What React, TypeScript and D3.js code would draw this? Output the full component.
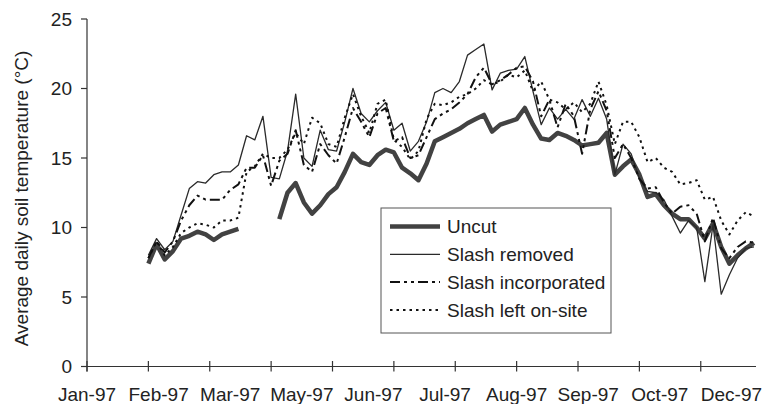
import * as d3 from "d3";

// Excel-style category axis: one category per reading day
const catCount = 327;
const tickEvery = 30;
const labelEvery = 35;
const firstCat = 30;
const step = 4;

const xLabels = ["Jan-97", "Feb-97", "Mar-97", "May-97", "Jun-97", "Jul-97", "Aug-97", "Sep-97", "Oct-97", "Dec-97"];
const yTicks = [0, 5, 10, 15, 20, 25];

const uncut: (number | null)[] = [
  7.4, 8.8, 7.7, 8.3, 9.2, 9.4, 9.7, 9.5, 9.1, 9.5, 9.7, 9.9, null, null, null, null,
  10.6, 12.5, 13.2, 11.8, 11.0, 11.6, 12.4, 12.9, 14.0, 15.3, 14.7, 14.5, 15.2, 15.6,
  15.4, 14.3, 13.9, 13.4, 14.6, 16.2, 16.5, 16.8, 17.1, 17.5, 17.8, 18.1, 16.9, 17.4,
  17.6, 17.8, 18.6, 17.4, 16.4, 16.3, 16.8, 16.6, 16.3, 15.9, 16.0, 16.1, 16.8, 13.8,
  14.4, 14.9, 13.8, 12.2, 12.4, 11.6, 11.0, 10.6, 10.6, 10.0, 9.2, 10.3, 8.6, 7.4,
  8.0, 8.5, 8.9,
];

const slashRemoved = [
  8.0, 9.2, 8.4, 9.0, 10.9, 12.8, 13.3, 13.2, 13.8, 14.0, 14.0, 14.5, 16.6, 16.3, 18.0,
  13.6, 13.5, 15.5, 19.6, 15.0, 14.4, 17.0, 15.6, 15.5, 17.6, 20.0, 18.2, 17.6, 18.4,
  19.0, 17.0, 17.5, 15.5, 16.2, 17.6, 19.7, 20.0, 19.7, 20.5, 22.4, 22.8, 23.2, 19.9,
  21.1, 21.3, 21.4, 22.3, 19.8, 17.4, 18.6, 17.8, 18.5, 17.8, 19.2, 18.0, 19.3, 17.8,
  13.8, 16.0, 15.3, 13.5, 12.6, 12.5, 12.0, 10.8, 9.6, 10.5, 10.0, 6.1, 10.2, 5.2,
  6.6, 7.8, 8.5, 8.6,
];

const slashIncorporated = [
  7.8, 9.0, 8.2, 9.0, 10.5, 11.6, 12.3, 12.0, 12.0, 12.0, 12.7, 13.1, 14.3, 14.3, 15.2,
  13.0, 14.8, 15.3, 17.0, 14.5, 14.0, 16.0, 15.2, 14.6, 16.5, 18.6, 17.6, 16.5, 18.2,
  18.6, 16.2, 16.5, 15.0, 15.2, 16.5, 17.8, 18.2, 18.5, 19.0, 19.6, 20.8, 21.5, 20.3,
  20.6, 21.0, 21.5, 21.6, 20.5, 18.0, 19.2, 17.2, 18.9, 18.0, 15.3, 18.5, 19.8, 18.4,
  15.0, 16.0, 15.0, 13.5, 12.8, 12.9, 11.8, 11.0, 11.5, 11.6, 11.0, 9.0, 10.7, 8.5,
  7.8, 8.6, 9.0, 8.9,
];

const slashLeft = [
  7.8, 9.0, 8.0, 8.6, 9.6, 10.0, 10.3, 10.2, 10.0, 10.5, 10.5, 10.7, 14.0, 14.4, 15.3,
  15.0, 15.0, 15.6, 16.8, 16.0, 17.9, 17.5, 16.0, 15.8, 17.9, 19.6, 18.0, 16.8, 18.9,
  19.2, 16.3, 15.8, 14.9, 15.5, 17.8, 18.9, 18.8, 19.0, 19.4, 19.6, 20.0, 20.6, 20.3,
  20.5, 21.0, 20.8, 21.3, 19.8, 20.5, 19.2, 19.0, 18.5, 19.0, 18.3, 18.9, 20.5, 18.8,
  16.0, 17.6, 17.6, 16.5, 14.7, 15.0, 14.3, 14.0, 13.1, 13.2, 13.4, 12.0, 12.2, 10.5,
  9.5, 10.5, 11.1, 10.8,
];

const series = [
  { name: "Uncut", values: uncut, stroke: "#424242", width: 4.5, dash: undefined },
  { name: "Slash removed", values: slashRemoved, stroke: "#2a2a2a", width: 1.3, dash: undefined },
  { name: "Slash incorporated", values: slashIncorporated, stroke: "#111", width: 2, dash: "10,4,3,4,3,4" },
  { name: "Slash left on-site", values: slashLeft, stroke: "#111", width: 2, dash: "2.5,4" },
];

const font = "'Liberation Sans', Arial, sans-serif";

export default function App() {
  const width = 763;
  const height = 404;

  const x = d3.scaleLinear().domain([0, catCount]).range([87, 756]);
  const y = d3.scaleLinear().domain([0, 25]).range([366.5, 19]);

  const line = d3
    .line<number | null>()
    .defined((v) => v != null)
    .x((_, i) => x(firstCat + i * step))
    .y((v) => y(v as number));

  const ticks = d3.range(0, catCount, tickEvery);

  return (
    <svg
      width={width}
      height={height}
      style={{ position: "absolute", left: 0, top: 0, background: "#fff" }}
      fontFamily={font}
      fontSize={19}
    >
      {/* y axis */}
      <line x1={x(0)} x2={x(0)} y1={y(25)} y2={y(0) + 5} stroke="#333" strokeWidth={1.2} />
      {yTicks.map((t) => (
        <g key={`yt-${t}`}>
          <line x1={x(0) - 6} x2={x(0)} y1={y(t)} y2={y(t)} stroke="#333" strokeWidth={1.2} />
          <text x={72} y={y(t)} dy="0.35em" textAnchor="end" fill="#222">{t}</text>
        </g>
      ))}
      <text
        transform={`translate(27.5,198.5) rotate(-90)`}
        textAnchor="middle"
        fill="#222"
      >
        Average daily soil temperature (°C)
      </text>

      {/* x axis */}
      <line x1={x(0)} x2={x(catCount)} y1={y(0)} y2={y(0)} stroke="#333" strokeWidth={1.2} />
      {ticks.map((t) => (
        <line key={`xt-${t}`} x1={x(t)} x2={x(t)} y1={y(0) - 5.5} y2={y(0) + 5} stroke="#333" strokeWidth={1.2} />
      ))}
      {xLabels.map((l, i) => (
        <text key={`xl-${l}`} x={x(i * labelEvery)} y={401} textAnchor="middle" fill="#222">{l}</text>
      ))}

      {/* series */}
      {series.map((s) => (
        <path
          key={`s-${s.name}`}
          d={line(s.values) || ""}
          fill="none"
          stroke={s.stroke}
          strokeWidth={s.width}
          strokeDasharray={s.dash}
          strokeLinejoin="round"
        />
      ))}

      {/* legend */}
      <g>
        <rect x={381} y={208} width={230} height={125} fill="#fff" stroke="#555" strokeWidth={1} />
        {series.map((s, i) => (
          <g key={`lg-${s.name}`} transform={`translate(0,${226.5 + i * 27.8})`}>
            <line x1={390} x2={440} y1={0} y2={0} stroke={s.stroke} strokeWidth={s.width} strokeDasharray={s.dash} />
            <text x={447} y={0} dy="0.35em" fill="#222">{s.name}</text>
          </g>
        ))}
      </g>
    </svg>
  );
}
